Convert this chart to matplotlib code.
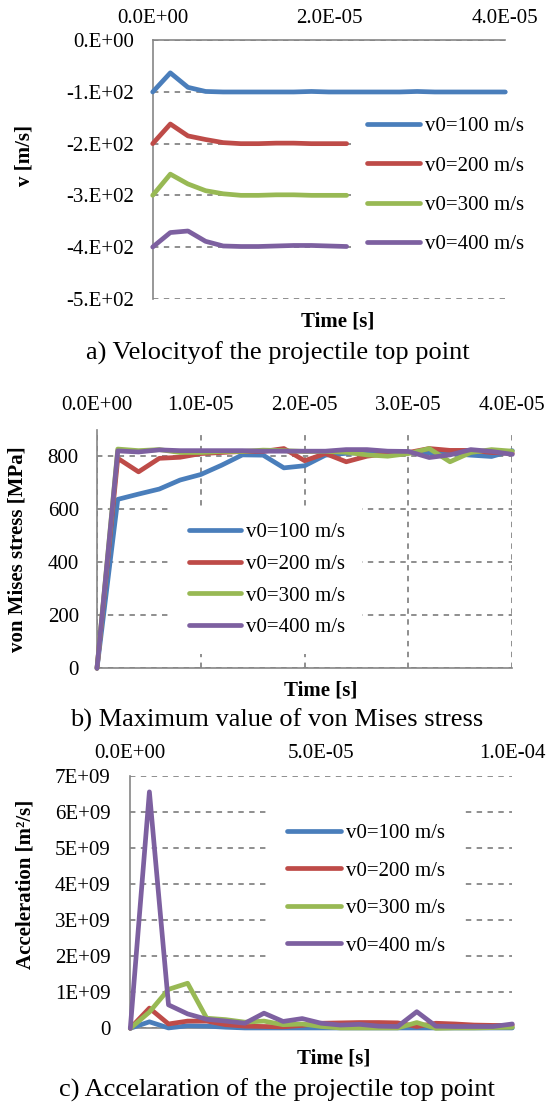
import matplotlib
matplotlib.use("Agg")
import matplotlib.pyplot as plt

plt.rcParams['font.family'] = ['Liberation Serif', 'DejaVu Serif']

W, H = 549, 1106

series_labels = ["v0=100 m/s", "v0=200 m/s", "v0=300 m/s", "v0=400 m/s"]
series_colors = ["#4A7EBB", "#BE4B48", "#98B954", "#7D60A0"]

# ---- a) velocity of the projectile top point (time in microseconds) ----
vel_time_us = [0, 2, 4, 6, 8, 10, 12, 14, 16, 18, 20, 22, 24, 26, 28, 30, 32, 34, 36, 38, 40]
vel_100 = [-100, -63, -91, -99, -100, -100, -100, -100, -100, -99, -100, -100, -100, -100, -100, -99, -100, -100, -100, -100, -100]
vel_200 = [-200, -162, -185, -192, -198, -200, -200, -199, -199, -200, -200, -200]
vel_300 = [-300, -259, -278, -291, -297, -300, -300, -299, -299, -300, -300, -300]
vel_400 = [-400, -372, -369, -389, -398, -399, -399, -398, -397, -397, -398, -399]
vel_xticks = [0, 2e-5, 4e-5]
vel_xticklabels = ["0.0E+00", "2.0E-05", "4.0E-05"]
vel_yticks = [0, -100, -200, -300, -400, -500]
vel_yticklabels = ["0.E+00", "-1.E+02", "-2.E+02", "-3.E+02", "-4.E+02", "-5.E+02"]

# ---- b) maximum von Mises stress ----
stress_time_us = [0, 2, 4, 6, 8, 10, 12, 14, 16, 18, 20, 22, 24, 26, 28, 30, 32, 34, 36, 38, 40]
stress_100 = [0, 638, 658, 677, 711, 732, 767, 806, 805, 757, 765, 805, 812, 815, 815, 816, 814, 812, 805, 800, 822]
stress_200 = [0, 793, 742, 793, 797, 811, 815, 819, 819, 830, 784, 811, 780, 801, 811, 815, 830, 823, 823, 815, 812]
stress_300 = [0, 828, 822, 826, 815, 815, 819, 819, 824, 822, 819, 819, 816, 806, 801, 811, 830, 780, 815, 826, 820]
stress_400 = [0, 821, 817, 825, 822, 822, 822, 822, 820, 820, 820, 820, 826, 826, 820, 819, 796, 806, 826, 819, 808]
stress_xticks = [0, 1e-5, 2e-5, 3e-5, 4e-5]
stress_xticklabels = ["0.0E+00", "1.0E-05", "2.0E-05", "3.0E-05", "4.0E-05"]
stress_yticks = [0, 200, 400, 600, 800]
stress_yticklabels = ["0", "200", "400", "600", "800"]

# ---- c) acceleration of the projectile top point (values in 1E+09) ----
acc_time_us = [0, 5, 10, 15, 20, 25, 30, 35, 40, 45, 50, 55, 60, 65, 70, 75, 80, 85, 90, 95, 100]
acc_100 = [0, 0.18, 0.01, 0.07, 0.06, 0.03, 0.01, 0.01, 0.01, 0.01, 0.01, 0.01, 0.01, 0.01, 0.01, 0.01, 0.01, 0.01, 0.01, 0.01, 0.01]
acc_200 = [0, 0.56, 0.12, 0.20, 0.20, 0.10, 0.06, 0.05, 0.04, 0.08, 0.14, 0.15, 0.16, 0.16, 0.15, 0.05, 0.14, 0.12, 0.09, 0.08, 0.08]
acc_300 = [0, 0.45, 1.08, 1.25, 0.28, 0.24, 0.17, 0.20, 0.10, 0.12, 0.05, 0.01, 0.01, 0.01, 0.01, 0.16, 0.00, 0.01, 0.01, 0.02, 0.03]
acc_400 = [0, 6.56, 0.65, 0.40, 0.25, 0.20, 0.14, 0.42, 0.19, 0.27, 0.14, 0.09, 0.11, 0.06, 0.05, 0.46, 0.06, 0.05, 0.05, 0.05, 0.12]
acc_xticks = [0, 5e-5, 1e-4]
acc_xticklabels = ["0.0E+00", "5.0E-05", "1.0E-04"]
acc_yticks = [0, 1e9, 2e9, 3e9, 4e9, 5e9, 6e9, 7e9]
acc_yticklabels = ["0", "1E+09", "2E+09", "3E+09", "4E+09", "5E+09", "6E+09", "7E+09"]

GRAY = "#868686"
FS = 15
LW = 3.4


def px_axes(fig, x0, x1, y0, y1):
    return fig.add_axes([x0 / W, 1 - y1 / H, (x1 - x0) / W, (y1 - y0) / H])


def style(ax, xticks, xlabels, yticks, ylabels, ypad, xpad):
    ax.set_xticks(xticks)
    ax.set_xticklabels(xlabels)
    ax.set_yticks(yticks)
    ax.set_yticklabels(ylabels)
    ax.xaxis.tick_top()
    ax.tick_params(axis='x', length=0, pad=xpad, labelsize=FS)
    ax.tick_params(axis='y', length=0, pad=ypad, labelsize=FS)
    for s in ax.spines.values():
        s.set_color(GRAY)
        s.set_linewidth(1.2)
    ax.set_axisbelow(True)


def add_lines(ax, series, scale=1.0):
    for (tt, vals), lab, col in zip(series, series_labels, series_colors):
        ax.plot([t * 1e-6 for t in tt], [v * scale for v in vals], color=col, lw=LW,
                label=lab, solid_joinstyle='round', solid_capstyle='round', clip_on=False, zorder=3)


def add_legend(ax, fig, left_px, center_px, spacing, hl):
    ax.legend(loc='center left', bbox_to_anchor=(left_px / W, 1 - center_px / H),
              bbox_transform=fig.transFigure, borderaxespad=0, frameon=True,
              facecolor='white', edgecolor='none', framealpha=1, fancybox=False,
              handlelength=hl, handletextpad=0.25, borderpad=0.8,
              labelspacing=spacing, fontsize=FS)


fig = plt.figure(figsize=(W / 100, H / 100), dpi=100)

# Panel a
ax1 = px_axes(fig, 152.7, 505.3, 40.3, 298.7)
add_lines(ax1, [(vel_time_us, vel_100), (vel_time_us[:len(vel_200)], vel_200),
                (vel_time_us[:len(vel_300)], vel_300), (vel_time_us[:len(vel_400)], vel_400)])
ax1.set_xlim(0, 4e-5)
ax1.set_ylim(-500, 0)
style(ax1, vel_xticks, vel_xticklabels, vel_yticks, vel_yticklabels, 13.5, 8.5)
ax1.yaxis.grid(True, color=GRAY, linestyle=(0, (3, 3)), linewidth=1.3)
ax1.spines['bottom'].set_visible(False)
ax1.spines['right'].set_visible(False)
ax1.set_ylabel("v [m/s]", fontsize=FS, fontweight='bold', va='center', ha='center')
ax1.yaxis.set_label_coords((24.5 - 152.7) / 352.6, (298.7 - 155) / 258.4)
ax1.set_xlabel("Time [s]", fontsize=FS, fontweight='bold', va='center', ha='center')
ax1.xaxis.set_label_coords((337.9 - 152.7) / 352.6, (298.7 - 321.7) / 258.4)
add_legend(ax1, fig, 350.8, 185.5, 0.95, 2.5)

# Panel b
ax2 = px_axes(fig, 97, 512.3, 430, 668.3)
add_lines(ax2, [(stress_time_us, stress_100), (stress_time_us, stress_200),
                (stress_time_us, stress_300), (stress_time_us, stress_400)])
ax2.set_xlim(0, 4e-5)
ax2.set_ylim(0, 900)
style(ax2, stress_xticks, stress_xticklabels, stress_yticks, stress_yticklabels, 13.1, 11)
ax2.grid(True, color=GRAY, linestyle=(0, (3, 3)), linewidth=1.3)
ax2.spines['top'].set_visible(False)
ax2.spines['right'].set_visible(False)
ax2.set_ylabel("von Mises stress [MPa]", fontsize=FS, fontweight='bold', va='center', ha='center')
ax2.yaxis.set_label_coords((17.5 - 97) / 415.3, 0.5)
ax2.set_xlabel("Time [s]", fontsize=FS, fontweight='bold', va='center', ha='center')
ax2.xaxis.set_label_coords((320.4 - 97) / 415.3, (668.3 - 690) / 238.3)
add_legend(ax2, fig, 172.2, 580, 0.58, 2.5)

# Panel c
ax3 = px_axes(fig, 130.3, 512.3, 776, 1028.3)
add_lines(ax3, [(acc_time_us, acc_100), (acc_time_us, acc_200),
                (acc_time_us, acc_300), (acc_time_us, acc_400)], scale=1e9)
ax3.set_xlim(0, 1e-4)
ax3.set_ylim(0, 7e9)
style(ax3, acc_xticks, acc_xticklabels, acc_yticks, acc_yticklabels, 14.4, 9.2)
ax3.yaxis.grid(True, color=GRAY, linestyle=(0, (3, 3)), linewidth=1.3)
ax3.spines['top'].set_visible(False)
ax3.spines['right'].set_visible(False)
ax3.set_ylabel("Acceleration [m\u00b2/s]", fontsize=FS, fontweight='bold', va='center', ha='center')
ax3.yaxis.set_label_coords((25.5 - 130.3) / 382, (1028.3 - 884.5) / 252.3)
ax3.set_xlabel("Time [s]", fontsize=FS, fontweight='bold', va='center', ha='center')
ax3.xaxis.set_label_coords((333.7 - 130.3) / 382, (1028.3 - 1058.3) / 252.3)
add_legend(ax3, fig, 270.2, 889.5, 0.86, 2.6)

# Captions
fig.text(277.5 / W, 1 - 353.3 / H, "a) Velocityof the projectile top point", fontsize=19, ha='center', va='center')
fig.text(276.6 / W, 1 - 720 / H, "b) Maximum value of von Mises stress", fontsize=19, ha='center', va='center')
fig.text(276.6 / W, 1 - 1090 / H, "c) Accelaration of the projectile top point", fontsize=19, ha='center', va='center')

fig.savefig("out.png", dpi=100)
